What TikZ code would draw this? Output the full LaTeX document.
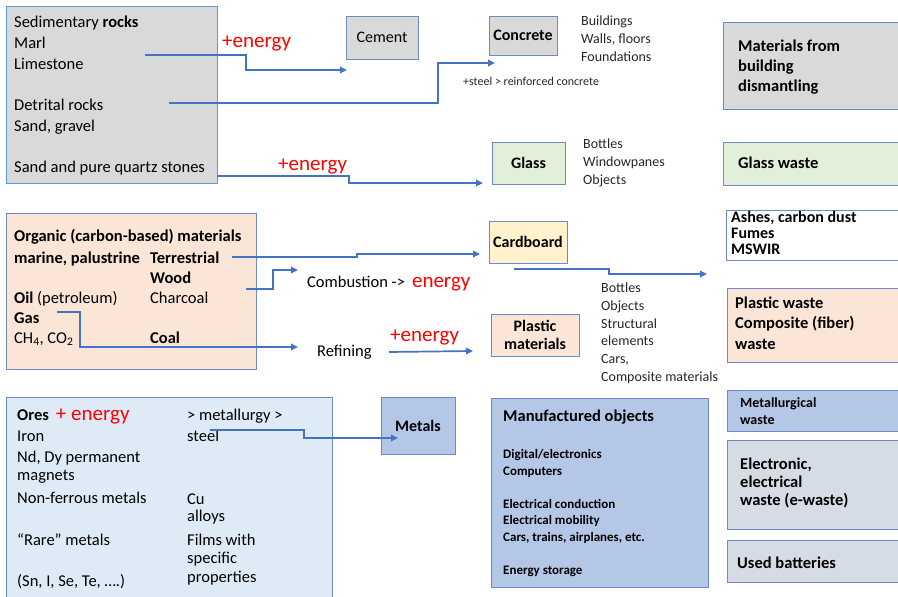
\documentclass[tikz,border=0pt]{standalone}
\usepackage{fontspec}
\setmainfont{Carlito}
\usepackage{xcolor}
\usepackage{tikz}
\usetikzlibrary{arrows.meta,calc}

\definecolor{bord}{RGB}{110,138,196}
\definecolor{sedbord}{RGB}{91,155,213}
\definecolor{flowblue}{RGB}{68,114,196}
\definecolor{grayfill}{RGB}{217,217,217}
\definecolor{greenfill}{RGB}{226,240,217}
\definecolor{peachfill}{RGB}{251,229,214}
\definecolor{yellowfill}{RGB}{255,242,204}
\definecolor{icefill}{RGB}{222,235,247}
\definecolor{steelfill}{RGB}{180,199,231}
\definecolor{slatefill}{RGB}{214,220,229}
\definecolor{energyred}{RGB}{255,0,0}
\newcommand{\fsz}[2]{\fontsize{#1}{#2}\selectfont}

\begin{document}
\begin{tikzpicture}[x=1pt, y=-1pt,
  box/.style={draw=bord, line width=0.9pt, inner sep=0pt, anchor=north west},
  lbl/.style={anchor=base west, inner sep=0pt, align=left, font=\fsz{16.5}{21}},
  lbls/.style={lbl, font=\fsz{14}{17.9}, text=black!85},
  energy/.style={lbl, text=energyred, font=\fsz{21}{21}},
  flow/.style={draw=flowblue, line width=1.7pt, -{Triangle[length=7pt,width=6.5pt]}},
]
\useasboundingbox (0,0) rectangle (898,597);
\clip (0,0) rectangle (898,597);

\node[box, fill=grayfill, draw=sedbord, minimum width=211pt, minimum height=177pt] (sed) at (6,6) {};
\node[box, fill=grayfill, minimum width=72pt, minimum height=43pt, anchor=center, font=\fsz{16}{19}] (cement) at (382,37.5) {Cement};
\node[box, fill=grayfill, minimum width=68pt, minimum height=39pt, anchor=center, font=\bfseries\fsz{16}{19}] (concrete) at (523,35.5) {Concrete};
\node[box, fill=grayfill, minimum width=190pt, minimum height=87pt] (dismantle) at (723,22) {};
\node[box, fill=greenfill, minimum width=73pt, minimum height=42pt, anchor=center, font=\bfseries\fsz{16}{19}] (glass) at (528.5,163) {Glass};
\node[box, fill=greenfill, minimum width=190pt, minimum height=43pt] (glasswaste) at (723,142) {};
\node[box, fill=peachfill, minimum width=250pt, minimum height=156pt] (organic) at (6,213) {};
\node[box, fill=yellowfill, minimum width=78pt, minimum height=42pt, anchor=center, font=\bfseries\fsz{16}{19}] (cardboard) at (528,242) {Cardboard};
\node[box, fill=white, minimum width=190pt, minimum height=50pt] (ashes) at (726,210) {};
\node[box, fill=peachfill, minimum width=88pt, minimum height=42pt, anchor=center, align=center, font=\bfseries\fsz{16}{18.3}] (plastic) at (535,335) {Plastic\\materials};
\node[box, fill=peachfill, minimum width=190pt, minimum height=74pt] (plasticwaste) at (727,288) {};
\node[box, fill=icefill, minimum width=326pt, minimum height=220pt] (ores) at (6,397) {};
\node[box, fill=steelfill, minimum width=74pt, minimum height=57pt, anchor=center, font=\bfseries\fsz{16}{19}] (metals) at (418,425.5) {Metals};
\node[box, fill=steelfill, minimum width=217pt, minimum height=189pt] (manuf) at (491,398) {};
\node[box, fill=steelfill, minimum width=190pt, minimum height=41pt] (metwaste) at (727,390) {};
\node[box, fill=slatefill, minimum width=190pt, minimum height=89pt] (ewaste) at (727,440) {};
\node[box, fill=slatefill, minimum width=190pt, minimum height=42pt] (batteries) at (727,540) {};

\node[lbl] (sedtxt) at (14,172) {Sedimentary \textbf{rocks}\\Marl\\Limestone\\[20pt]Detrital rocks\\Sand, gravel\\[20pt]Sand and pure quartz stones};
\node[energy] (energyA) at (222,47.5) {+energy};
\node[energy] (energyB) at (278,170) {+energy};
\node[lbls, font=\fsz{14}{17.8}] (concuse) at (581,61.3) {Buildings\\Walls, floors\\Foundations};
\node[lbl, font=\fsz{12}{14}, text=black!85] (steelnote) at (463,85.3) {+steel > reinforced concrete};
\node[lbl, font=\bfseries\fsz{16.5}{19.7}] (dismtxt) at (738,91) {Materials from\\building\\dismantling};
\node[lbls, font=\fsz{14}{18}] (glassuse) at (583,184.3) {Bottles\\Windowpanes\\Objects};
\node[lbl, font=\bfseries\fsz{16.5}{20}] (gwtxt) at (738,168.3) {Glass waste};

\node[lbl, font=\bfseries\fsz{16.5}{20}] (orgtitle) at (14,241.7) {Organic (carbon-based) materials};
\node[lbl, font=\fsz{16.5}{20}] (orgleft) at (14,343.3) {\textbf{marine, palustrine}\\[20pt]\textbf{Oil} (petroleum)\\\textbf{Gas}\\CH\textsubscript{4}, CO\textsubscript{2}};
\node[lbl, font=\fsz{16.5}{20}] (orgright) at (150,343.3) {\textbf{Terrestrial}\\\textbf{Wood}\\Charcoal\\[20pt]\textbf{Coal}};
\node[lbl] (combust) at (307,287.3) {Combustion ->\hspace{7pt}{\color{energyred}\fsz{21}{21}energy}};
\node[lbl] (refining) at (317,356.7) {Refining};
\node[energy] (energyC) at (390,341.7) {+energy};
\node[lbls] (plastuse) at (601,381.7) {Bottles\\Objects\\Structural\\elements\\Cars,\\Composite materials};
\node[lbl, font=\bfseries\fsz{16}{15.8}] (ashtxt) at (731,254.3) {Ashes, carbon dust\\Fumes\\MSWIR};
\node[lbl, font=\bfseries\fsz{16.5}{20.4}] (pwtxt) at (735,349) {Plastic waste\\Composite (fiber)\\waste};

\node[lbl, font=\fsz{16.5}{20.8}] (oreleft) at (17,586.5) {\textbf{Ores}\hspace{7pt}{\color{energyred}\fsz{21}{20.8}+ energy}\\Iron\\Nd, Dy permanent\\[-2.5pt]magnets\\[2.5pt]Non-ferrous metals\\[21pt]“Rare” metals\\[20pt](Sn, I, Se, Te, ….)};
\node[lbl, font=\fsz{16.5}{20.8}] (oreright) at (187,582.7) {> metallurgy >\\steel\\[41.6pt]Cu\\[-3pt]alloys\\[3pt]Films with\\[-2.5pt]specific\\[-2pt]properties};
\node[lbl, font=\bfseries\fsz{16.5}{20}] (manuftitle) at (503,421.7) {Manufactured objects};
\node[lbl, font=\bfseries\fsz{13}{16.5}] (manuflist) at (503,574.3) {Digital/electronics\\Computers\\[16.5pt]Electrical conduction\\Electrical mobility\\Cars, trains, airplanes, etc.\\[16.5pt]Energy storage};
\node[lbl, font=\bfseries\fsz{14}{16.6}] (mwtxt) at (740,424.3) {Metallurgical\\waste};
\node[lbl, font=\bfseries\fsz{16.5}{17.8}] (ewtxt) at (740,505) {Electronic,\\electrical\\waste (e-waste)};
\node[lbl, font=\bfseries\fsz{16.5}{20}] (battxt) at (737,568.3) {Used batteries};

\coordinate (limeout) at (145,55);
\coordinate (cementin) at (347,70);
\coordinate (detout) at (169,103);
\coordinate (concin) at (495,63);
\coordinate (quartzout) at (217,176);
\coordinate (glassin) at (483,183);
\coordinate (terrout) at (232,257);
\coordinate (cardin) at (480,254);
\coordinate (woodout) at (246,289);
\coordinate (combin) at (298,270);
\coordinate (oilout) at (57,312);
\coordinate (refin) at (298,347);
\coordinate (refout) at (389,352);
\coordinate (plastin) at (473,351);
\coordinate (cardout) at (514,269);
\coordinate (wastein) at (707,274);
\coordinate (steelout) at (210,430);
\coordinate (metalsin) at (398,438);

\draw[flow] (limeout) -- ++(101,0) |- (cementin);
\draw[flow] (detout) -- ++(269,0) |- (concin);
\draw[flow] (quartzout) -- ++(132,0) |- (glassin);
\draw[flow] (terrout) -- ++(125,0) |- (cardin);
\draw[flow] (woodout) -- ++(27,0) |- (combin);
\draw[flow] (oilout) -- ++(23,0) |- (refin);
\draw[flow] (refout) -- (plastin);
\draw[flow] (cardout) -- ++(95,0) |- (wastein);
\draw[flow] (steelout) -- ++(94,0) |- (metalsin);
\end{tikzpicture}
\end{document}
